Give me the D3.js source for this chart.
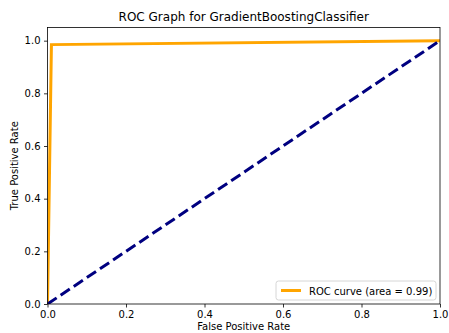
<!DOCTYPE html>
<html>
<head>
<meta charset="utf-8">
<script src="https://cdn.jsdelivr.net/npm/d3@7"></script>
<style>
  body { margin: 0; background: #fff; }
  svg { font-family: "DejaVu Sans", sans-serif; }
</style>
</head>
<body>
<svg id="chart"></svg>
<script>
const fpr = [0, 0.01, 1];
const tpr = [0, 0.985, 1];
const chanceX = [0, 1];
const chanceY = [0, 1];
const tickValues = [0, 0.2, 0.4, 0.6, 0.8, 1.0];
const aucLabel = "ROC curve (area = 0.99)";

const width = 449;
const height = 333;
const margin = { top: 27.5, right: 9, bottom: 29, left: 47.5 };

const svg = d3.select("#chart").attr("width", width).attr("height", height);

const x = d3.scaleLinear().domain([0, 1]).range([margin.left, width - margin.right]);
const y = d3.scaleLinear().domain([0, 1.05]).range([height - margin.bottom, margin.top]);

const roc = fpr.map((d, i) => ({ x: d, y: tpr[i] }));
const chance = chanceX.map((d, i) => ({ x: d, y: chanceY[i] }));

const line = d3.line().x((d) => x(d.x)).y((d) => y(d.y));

// clip to plot area
svg.append("clipPath").attr("id", "clip")
  .append("rect")
  .attr("x", margin.left).attr("y", margin.top)
  .attr("width", x(1) - margin.left).attr("height", y(0) - margin.top);

const plot = svg.append("g").attr("clip-path", "url(#clip)");

plot.append("path").datum(roc)
  .attr("fill", "none").attr("stroke", "orange")
  .attr("stroke-width", 3).attr("stroke-linejoin", "miter")
  .attr("d", line);

plot.append("path").datum(chance)
  .attr("fill", "none").attr("stroke", "navy")
  .attr("stroke-width", 3).attr("stroke-dasharray", "11,4.8")
  .attr("d", line);

// frame
svg.append("rect")
  .attr("x", margin.left).attr("y", margin.top)
  .attr("width", x(1) - margin.left).attr("height", y(0) - margin.top)
  .attr("fill", "none").attr("stroke", "#000").attr("stroke-width", 0.8);

const fmt = d3.format(".1f");

// x axis
const xAxis = svg.append("g")
  .attr("transform", `translate(0,${y(0)})`)
  .call(d3.axisBottom(x).tickValues(tickValues).tickFormat(fmt).tickSize(3.5).tickPadding(3.5));
xAxis.select(".domain").remove();
xAxis.selectAll("text").attr("font-size", 10).attr("fill", "#000").attr("font-family", "DejaVu Sans");
xAxis.selectAll("line").attr("stroke-width", 0.8);

// y axis
const yAxis = svg.append("g")
  .attr("transform", `translate(${margin.left},0)`)
  .call(d3.axisLeft(y).tickValues(tickValues).tickFormat(fmt).tickSize(3.5).tickPadding(3.5));
yAxis.select(".domain").remove();
yAxis.selectAll("text").attr("font-size", 10).attr("fill", "#000").attr("font-family", "DejaVu Sans");
yAxis.selectAll("line").attr("stroke-width", 0.8);

// labels
svg.append("text")
  .attr("x", (margin.left + x(1)) / 2).attr("y", 330)
  .attr("text-anchor", "middle").attr("font-size", 10)
  .text("False Positive Rate");

svg.append("text")
  .attr("transform", `translate(18,${(margin.top + y(0)) / 2}) rotate(-90)`)
  .attr("text-anchor", "middle").attr("font-size", 10)
  .text("True Positive Rate");

svg.append("text")
  .attr("x", (margin.left + x(1)) / 2).attr("y", 21)
  .attr("text-anchor", "middle").attr("font-size", 12)
  .text("ROC Graph for GradientBoostingClassifier");

// legend
const lg = svg.append("g").attr("transform", `translate(276,281)`);
lg.append("rect")
  .attr("width", 160).attr("height", 19).attr("rx", 2.5)
  .attr("fill", "#fff").attr("fill-opacity", 0.8)
  .attr("stroke", "#ccc").attr("stroke-width", 0.8);
lg.append("line")
  .attr("x1", 5).attr("x2", 25).attr("y1", 9.5).attr("y2", 9.5)
  .attr("stroke", "orange").attr("stroke-width", 3);
lg.append("text")
  .attr("x", 33).attr("y", 13.5).attr("font-size", 10)
  .text(aucLabel);
</script>
</body>
</html>
